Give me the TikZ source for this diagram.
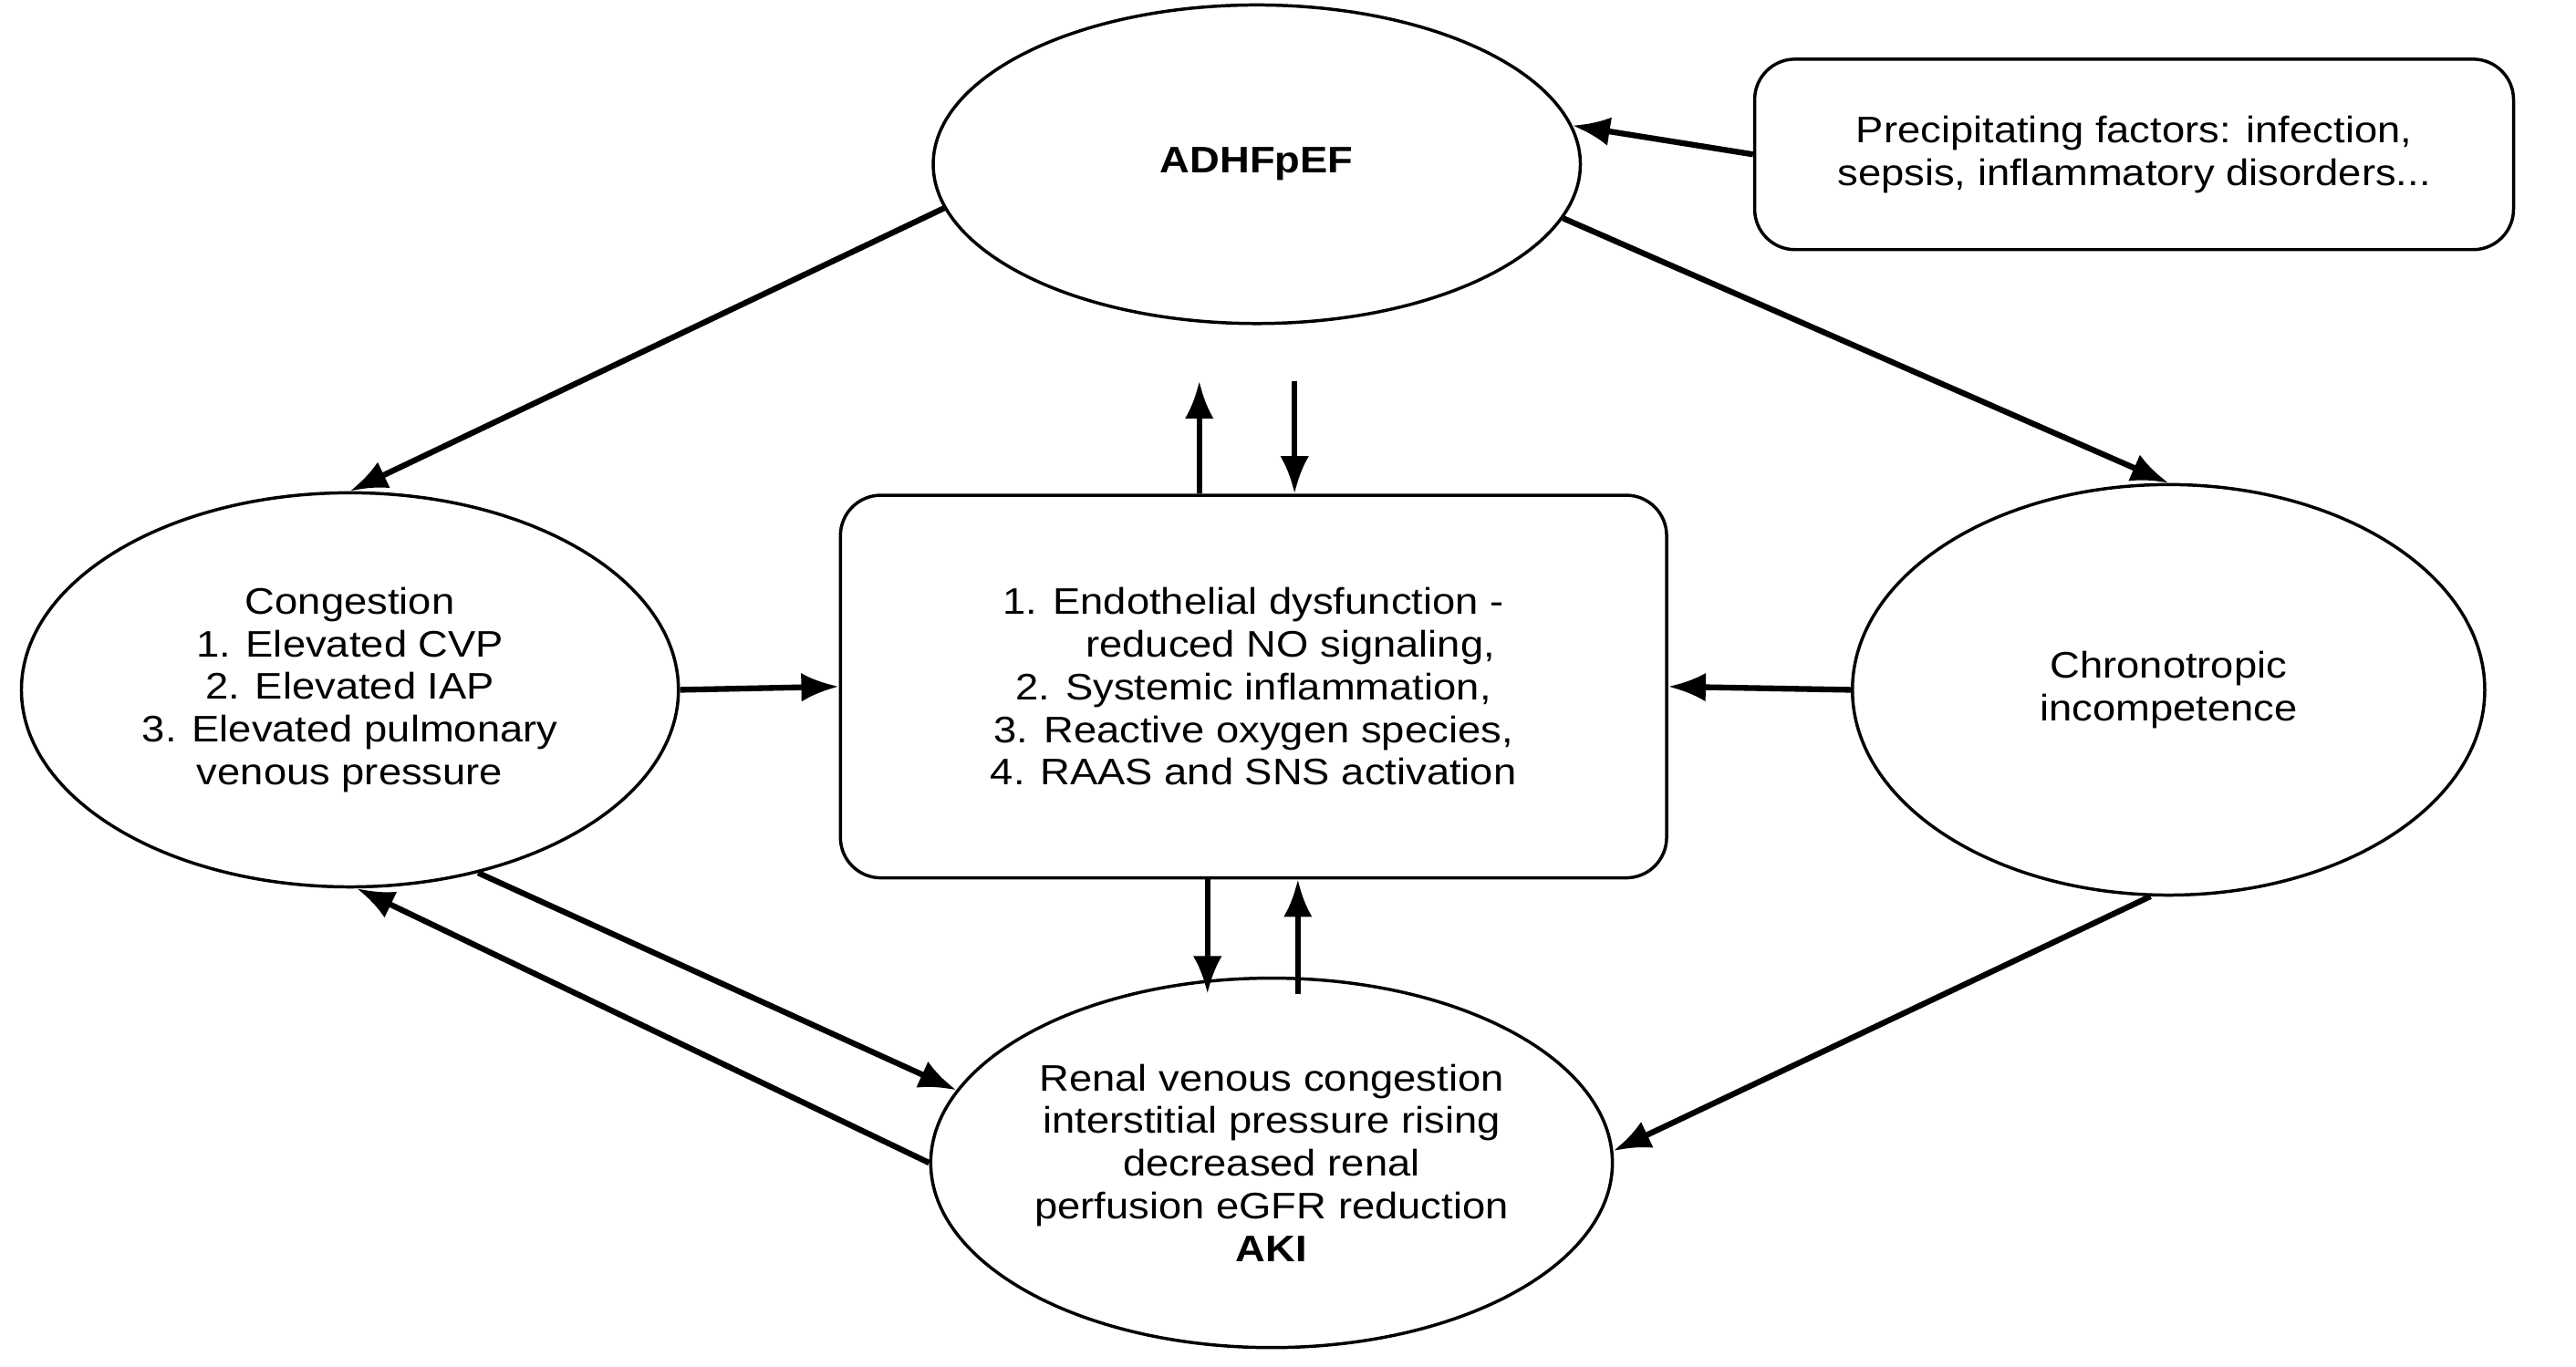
\documentclass[tikz,border=0pt]{standalone}
\usepackage{fontspec}
\setmainfont{Liberation Sans}[FakeStretch=1.12]
\usetikzlibrary{shapes.geometric,arrows.meta}
\begin{document}
\begin{tikzpicture}[x=0.02cm,y=-0.02cm,
  every node/.style={font=\fontsize{12.8}{14.8}\selectfont, align=center, line width=1.1pt},
  oval/.style={ellipse, draw, inner sep=0pt},
  box/.style={rectangle, draw, rounded corners=14pt},
  arr/.style={line width=2pt, -{Latex[length=13pt,width=10pt]}}]
  \useasboundingbox (0,0) rectangle (1568,832);

  % nodes
  \node[oval, minimum width=7.88cm, minimum height=3.88cm] (adhf) at (765,100) {\textbf{ADHFpEF}};
  \node[box, minimum width=9.24cm, minimum height=2.32cm] (prec) at (1299,94)
    {Precipitating factors: infection,\\sepsis, inflammatory disorders...};
  \node[oval, minimum width=8cm, minimum height=4.8cm] (cong) at (213,420)
    {Congestion\\1. Elevated CVP\\2. Elevated IAP\\3. Elevated pulmonary\\venous pressure};
  \node[box, minimum width=10.06cm, minimum height=4.66cm] (mech) at (763,418)
    {1. Endothelial dysfunction -\\\hspace*{2em}reduced NO signaling,\\2. Systemic inflammation,\\3. Reactive oxygen species,\\4. RAAS and SNS activation};
  \node[oval, minimum width=7.7cm, minimum height=5cm] (chrono) at (1320,420)
    {Chronotropic\\incompetence};
  \node[oval, minimum width=8.3cm, minimum height=4.5cm] (renal) at (774,708)
    {Renal venous congestion\\interstitial pressure rising\\decreased renal\\perfusion eGFR reduction\\\textbf{AKI}};

  % free ends of the vertical arrows
  \coordinate (u1) at (730,232);
  \coordinate (d1) at (788,232);
  \coordinate (d2) at (735,605);
  \coordinate (u2) at (790,605);

  % connectors
  \draw[arr] (prec.west) -- (adhf.7);
  \draw[arr] (adhf.188) -- (cong.north);
  \draw[arr] (adhf.350) -- (chrono.north);
  \draw[arr] (mech.north -| u1) -- (u1);
  \draw[arr] (d1) -- (mech.north -| d1);
  \draw[arr] (cong.east) -- (mech.west);
  \draw[arr] (chrono.west) -- (mech.east);
  \draw[arr] (mech.south -| d2) -- (d2);
  \draw[arr] (u2) -- (mech.south -| u2);
  \draw[arr] (cong.305) -- (renal.167);
  \draw[arr] (renal.180) -- (cong.272);
  \draw[arr] (chrono.265) -- (renal.2);
\end{tikzpicture}
\end{document}
